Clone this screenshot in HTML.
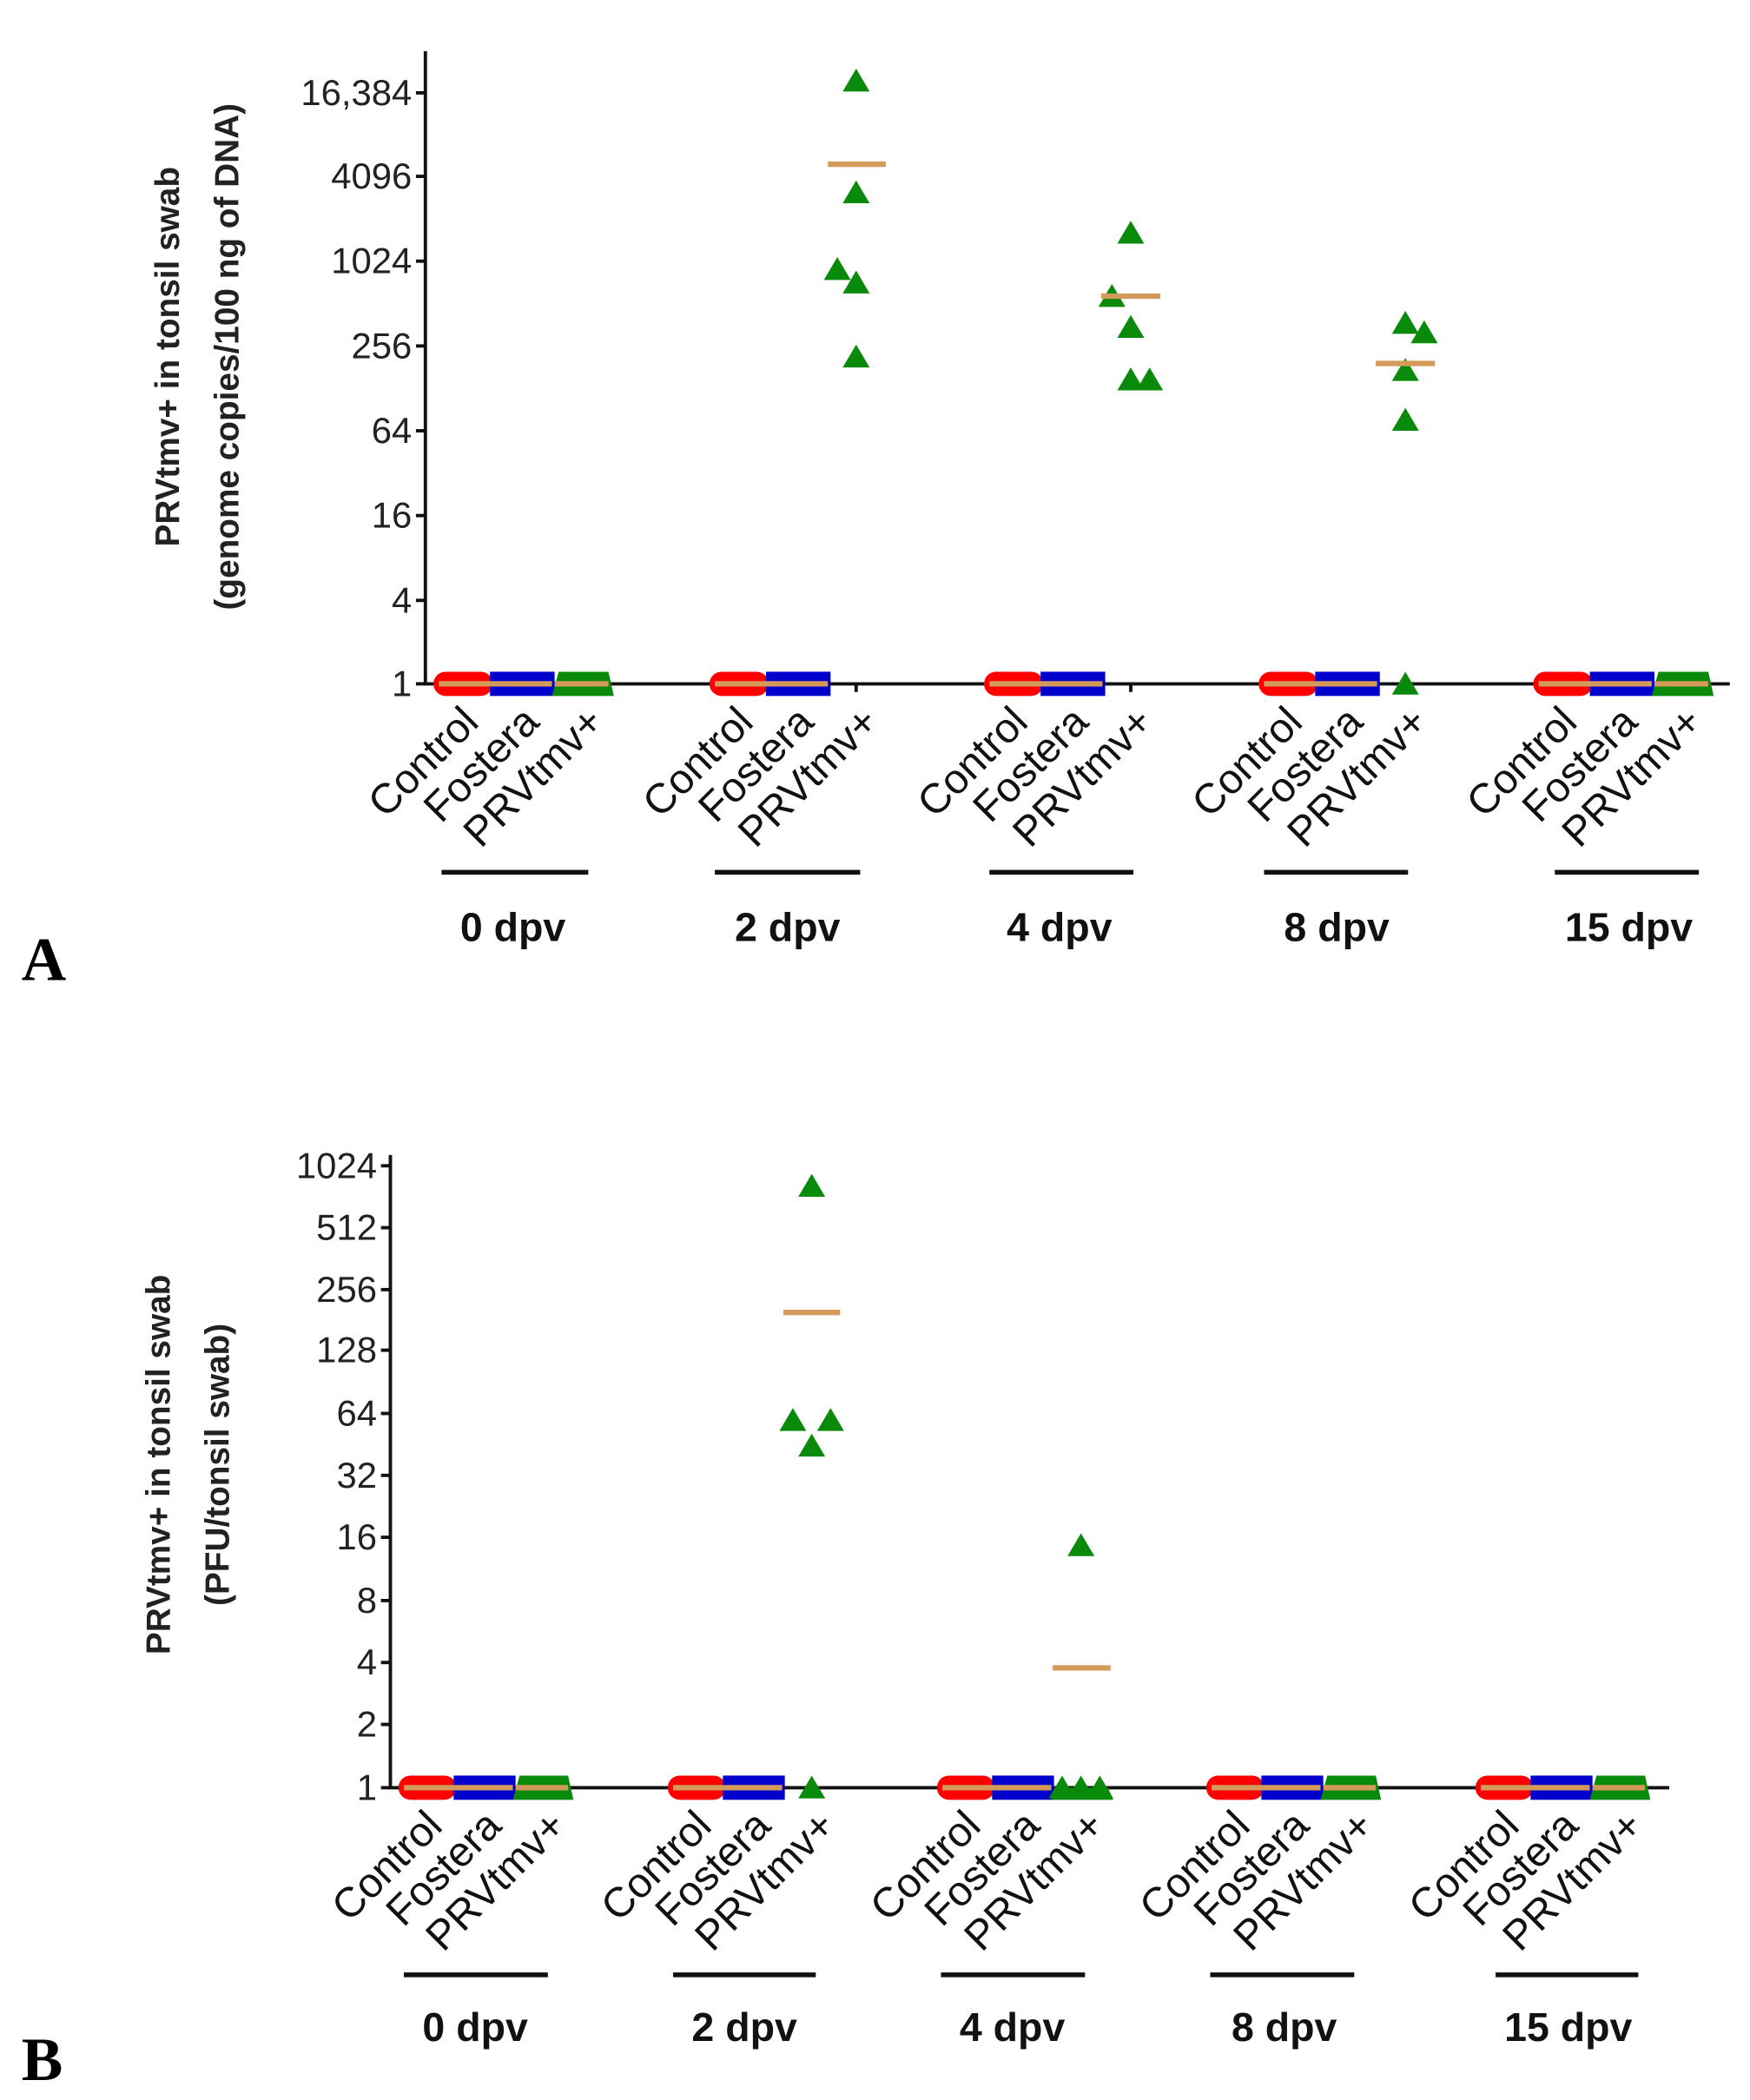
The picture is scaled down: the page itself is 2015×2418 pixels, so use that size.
<!DOCTYPE html>
<html><head><meta charset="utf-8"><style>
html,body{margin:0;padding:0;background:#fff;}
svg{display:block;}
text{font-family:"Liberation Sans",sans-serif;}
</style></head><body>
<svg width="2015" height="2418" viewBox="0 0 1300 1560" preserveAspectRatio="none" xmlns="http://www.w3.org/2000/svg">
<defs>
<g id="tri"><polygon points="-10,8 10,8 0,-9" fill="#0a8a0a"/></g>
<g id="rbA">
<rect x="322" y="499" width="44" height="18" rx="9" fill="#f00"/>
<rect x="364" y="499" width="48" height="18" fill="#0000cc"/>
<line x1="326" y1="508" x2="410" y2="508" stroke="#d39a5a" stroke-width="4"/>
</g>
<g id="gA">
<polygon points="410,517 456,517 452,499 415,499" fill="#0a8a0a"/>
<line x1="412" y1="508" x2="452" y2="508" stroke="#d39a5a" stroke-width="4"/>
</g>
<g id="rbB">
<rect x="296" y="1319" width="43" height="18" rx="9" fill="#f00"/>
<rect x="337" y="1319" width="46" height="18" fill="#0000cc"/>
<line x1="300" y1="1328" x2="381" y2="1328" stroke="#d39a5a" stroke-width="4"/>
</g>
<g id="gB">
<polygon points="381,1337 426,1337 422,1319 386,1319" fill="#0a8a0a"/>
<line x1="383" y1="1328" x2="422" y2="1328" stroke="#d39a5a" stroke-width="4"/>
</g>
</defs>
<!-- ================= PANEL A ================= -->
<g stroke="#111" stroke-width="2.5" fill="none">
<line x1="316" y1="38" x2="316" y2="509"/>
<line x1="315" y1="508" x2="1285" y2="508"/>
<line x1="309" y1="69" x2="316" y2="69"/><line x1="309" y1="131" x2="316" y2="131"/>
<line x1="309" y1="194" x2="316" y2="194"/><line x1="309" y1="257" x2="316" y2="257"/>
<line x1="309" y1="320" x2="316" y2="320"/><line x1="309" y1="383" x2="316" y2="383"/>
<line x1="309" y1="446" x2="316" y2="446"/><line x1="309" y1="508" x2="316" y2="508"/>
<line x1="636" y1="508" x2="636" y2="514"/><line x1="840" y1="508" x2="840" y2="514"/><line x1="1044" y1="508" x2="1044" y2="514"/>
</g>
<g font-size="27" fill="#222" text-anchor="end">
<text x="306" y="78">16,384</text><text x="306" y="140">4096</text><text x="306" y="203">1024</text>
<text x="306" y="266">256</text><text x="306" y="329">64</text><text x="306" y="392">16</text>
<text x="306" y="455">4</text><text x="306" y="517">1</text>
</g>
<g font-size="25" font-weight="bold" fill="#222" text-anchor="middle">
<text transform="translate(133,265) rotate(-90)">PRVtmv+ in tonsil swab</text>
<text transform="translate(177,265) rotate(-90)">(genome copies/100 ng of DNA)</text>
</g>
<use href="#rbA"/><use href="#gA"/>
<use href="#rbA" x="205"/>
<use href="#rbA" x="409"/>
<use href="#rbA" x="613"/>
<use href="#rbA" x="817"/><use href="#gA" x="817"/>
<!-- data A -->
<use href="#tri" x="636" y="60"/><use href="#tri" x="636" y="143"/><use href="#tri" x="622" y="200"/>
<use href="#tri" x="636" y="210"/><use href="#tri" x="636" y="265"/>
<use href="#tri" x="840" y="173"/><use href="#tri" x="826" y="220"/><use href="#tri" x="840" y="243"/>
<use href="#tri" x="840" y="282"/><use href="#tri" x="854" y="282"/>
<use href="#tri" x="1044" y="240"/><use href="#tri" x="1058" y="247"/><use href="#tri" x="1044" y="275"/>
<use href="#tri" x="1044" y="312"/><use href="#tri" x="1044" y="508"/>
<g stroke="#d39a5a" stroke-width="4">
<line x1="615" y1="122" x2="658" y2="122"/><line x1="818" y1="220" x2="862" y2="220"/><line x1="1022" y1="270" x2="1066" y2="270"/>
</g>
<g id="catA" font-size="31" fill="#111" text-anchor="end">
<text transform="translate(357,538) rotate(-45)">Control</text>
<text transform="translate(402,538) rotate(-45)">Fostera</text>
<text transform="translate(450,538) rotate(-45)">PRVtmv+</text>
</g>
<use href="#catA" x="204"/><use href="#catA" x="408"/><use href="#catA" x="612"/><use href="#catA" x="816"/>
<g stroke="#111" stroke-width="3.5">
<line x1="328" y1="648" x2="437" y2="648"/><line x1="531" y1="648" x2="639" y2="648"/>
<line x1="735" y1="648" x2="842" y2="648"/><line x1="939" y1="648" x2="1046" y2="648"/>
<line x1="1155" y1="648" x2="1262" y2="648"/>
</g>
<g font-size="30" font-weight="bold" fill="#111" text-anchor="middle">
<text x="381" y="699">0 dpv</text><text x="585" y="699">2 dpv</text><text x="787" y="699">4 dpv</text>
<text x="993" y="699">8 dpv</text><text x="1210" y="699">15 dpv</text>
</g>
<text x="16" y="728" style="font-family:'Liberation Serif',serif" font-weight="bold" font-size="46" fill="#000">A</text>

<!-- ================= PANEL B ================= -->
<g stroke="#111" stroke-width="2.5" fill="none">
<line x1="290" y1="858" x2="290" y2="1329"/>
<line x1="289" y1="1328" x2="1240" y2="1328"/>
<line x1="283" y1="866" x2="290" y2="866"/><line x1="283" y1="912" x2="290" y2="912"/>
<line x1="283" y1="958" x2="290" y2="958"/><line x1="283" y1="1003" x2="290" y2="1003"/>
<line x1="283" y1="1050" x2="290" y2="1050"/><line x1="283" y1="1096" x2="290" y2="1096"/>
<line x1="283" y1="1142" x2="290" y2="1142"/><line x1="283" y1="1189" x2="290" y2="1189"/>
<line x1="283" y1="1235" x2="290" y2="1235"/><line x1="283" y1="1281" x2="290" y2="1281"/>
<line x1="283" y1="1328" x2="290" y2="1328"/>
</g>
<g font-size="27" fill="#222" text-anchor="end">
<text x="280" y="875">1024</text><text x="280" y="921">512</text><text x="280" y="967">256</text>
<text x="280" y="1012">128</text><text x="280" y="1059">64</text><text x="280" y="1105">32</text>
<text x="280" y="1151">16</text><text x="280" y="1198">8</text><text x="280" y="1244">4</text>
<text x="280" y="1290">2</text><text x="280" y="1337">1</text>
</g>
<g font-size="25" font-weight="bold" fill="#222" text-anchor="middle">
<text transform="translate(126,1088) rotate(-90)">PRVtmv+ in tonsil swab</text>
<text transform="translate(170,1088) rotate(-90)">(PFU/tonsil swab)</text>
</g>
<use href="#rbB"/><use href="#gB"/>
<use href="#rbB" x="200"/>
<use href="#rbB" x="400"/>
<use href="#rbB" x="600"/><use href="#gB" x="600"/>
<use href="#rbB" x="800"/><use href="#gB" x="800"/>
<!-- data B -->
<use href="#tri" x="603" y="881"/><use href="#tri" x="589" y="1055"/><use href="#tri" x="617" y="1055"/>
<use href="#tri" x="603" y="1074"/><use href="#tri" x="603" y="1328"/>
<use href="#tri" x="803" y="1148"/>
<use href="#tri" x="789" y="1328"/><use href="#tri" x="803" y="1328"/><use href="#tri" x="817" y="1328"/>
<polygon points="781,1337 827,1337 823,1328 785,1328" fill="#0a8a0a"/>
<g stroke="#d39a5a" stroke-width="4">
<line x1="582" y1="975" x2="624" y2="975"/><line x1="782" y1="1239" x2="825" y2="1239"/>
</g>
<g id="catB" font-size="31" fill="#111" text-anchor="end">
<text transform="translate(330,1358) rotate(-45)">Control</text>
<text transform="translate(374,1358) rotate(-45)">Fostera</text>
<text transform="translate(422,1358) rotate(-45)">PRVtmv+</text>
</g>
<use href="#catB" x="200"/><use href="#catB" x="400"/><use href="#catB" x="600"/><use href="#catB" x="800"/>
<g stroke="#111" stroke-width="3.5">
<line x1="300" y1="1467" x2="407" y2="1467"/><line x1="500" y1="1467" x2="606" y2="1467"/>
<line x1="699" y1="1467" x2="806" y2="1467"/><line x1="899" y1="1467" x2="1006" y2="1467"/>
<line x1="1111" y1="1467" x2="1217" y2="1467"/>
</g>
<g font-size="30" font-weight="bold" fill="#111" text-anchor="middle">
<text x="353" y="1516">0 dpv</text><text x="553" y="1516">2 dpv</text><text x="752" y="1516">4 dpv</text>
<text x="954" y="1516">8 dpv</text><text x="1165" y="1516">15 dpv</text>
</g>
<text x="16" y="1545" style="font-family:'Liberation Serif',serif" font-weight="bold" font-size="46" fill="#000">B</text>
</svg>
</body></html>
